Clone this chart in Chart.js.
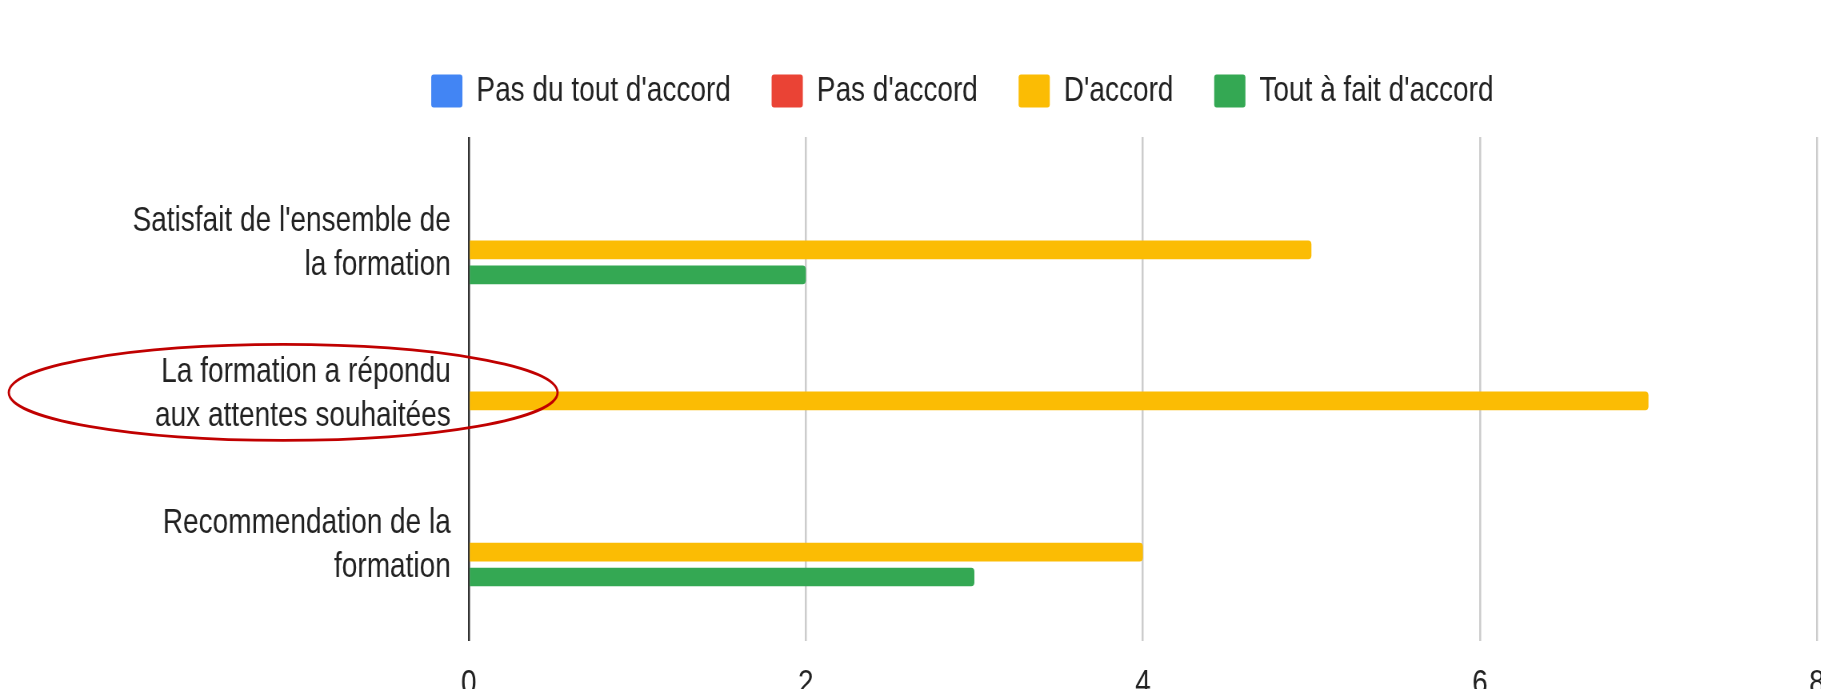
<!DOCTYPE html>
<html>
<head>
<meta charset="utf-8">
<script src="https://cdn.jsdelivr.net/npm/chart.js@4"></script>
<style>
    html, body { margin: 0; padding: 0; overflow: hidden; background: #fff; width: 1821px; height: 689px; }
    /* the source picture is squeezed sideways: draw wide, then squeeze the canvas the same way */
    canvas { display: block; transform: scaleX(0.8); transform-origin: 0 0; }
</style>
</head>
<body>
<canvas id="chart" width="2303" height="703"></canvas>
<script>

const FONT = "'Liberation Sans', Arial, sans-serif";

// questions (one per row, split in two lines like the original)
const questions = [
    ["Satisfait de l'ensemble de", "la formation"],
    ["La formation a répondu", "aux attentes souhaitées"],
    ["Recommendation de la", "formation"]
];

const seriesNames = ["Pas du tout d'accord", "Pas d'accord", "D'accord", "Tout à fait d'accord"];
const seriesColors = ['#4285f4', '#ea4335', '#fbbc04', '#34a853'];

const pasDuTout = [0, 0, 0];
const pasDaccord = [0, 0, 0];
const daccord = [5, 7, 4];
const toutAFait = [2, 0, 3];

const xTicks = [0, 2, 4, 6, 8];


function toPoints(values) {
    return values.map((v, i) => ({ x: v, y: i }));
}

const allSeries = [pasDuTout, pasDaccord, daccord, toutAFait];

const datasets = allSeries.map((values, i) => {
    return {
        label: seriesNames[i],
        data: toPoints(values),
        backgroundColor: seriesColors[i],
        borderRadius: 4,
        categoryPercentage: 0.662,
        barPercentage: 0.75
    };
});

// legend is not centred on the canvas in the original, push it right a bit
const legendShift = {
    id: 'legendShift',
    afterLayout(chart) {
        chart.legend.left += 64;
        chart.legend.right += 64;
    }
};

// the red hand-drawn circle around the 2nd question
const circleNote = {
    id: 'circleNote',
    afterDraw(chart) {
        const ctx = chart.ctx;
        const y = chart.scales.y;
        const cy = y.getPixelForValue(1) + 4;
        ctx.save();
        ctx.strokeStyle = '#c00000';
        ctx.lineWidth = 2.8;
        ctx.beginPath();
        ctx.ellipse(354, cy, 343, 48, 0, 0, Math.PI * 2);
        ctx.stroke();
        ctx.restore();
    }
};

const myChart = new Chart(document.getElementById('chart'), {
    type: 'bar',
    data: { datasets: datasets },
    plugins: [legendShift, circleNote],
    options: {
        indexAxis: 'y',
        responsive: false,
        animation: false,
        layout: {
            padding: { left: 0, right: 25, top: 22.5, bottom: 0 }
        },
        plugins: {
            tooltip: { enabled: false },
            legend: {
                position: 'top',
                labels: {
                    boxWidth: 39,
                    boxHeight: 33,
                    useBorderRadius: true,
                    borderRadius: 3,
                    padding: 51,
                    color: '#222',
                    font: { family: FONT, size: 35 }
                }
            }
        },
        scales: {
            x: {
                type: 'linear',
                position: 'bottom',
                min: xTicks[0],
                max: xTicks[xTicks.length - 1],
                afterBuildTicks: (s) => { s.ticks = xTicks.map(v => ({ value: v })); },
                afterFit: (s) => { s.height = 62; },
                grid: {
                    drawTicks: false,
                    lineWidth: 2.5,
                    color: (c) => c.tick && c.tick.value === 0 ? '#333333' : '#cccccc'
                },
                border: { display: false },
                ticks: {
                    padding: 22,
                    color: '#222',
                    font: { family: FONT, size: 35 }
                }
            },
            spacer: {
                axis: 'x',
                type: 'linear',
                position: 'top',
                grid: { display: false },
                border: { display: false },
                ticks: { display: false },
                afterFit: (s) => { s.height = 18.5; }
            },
            y: {
                type: 'linear',
                reverse: true,
                offset: false,
                min: -0.665,
                max: 2.672,
                afterBuildTicks: (s) => { s.ticks = questions.map((q, i) => ({ value: i })); },
                afterFit: (s) => { s.width = 586; },
                grid: { display: false },
                border: { display: false },
                ticks: {
                    padding: 14.5,
                    labelOffset: 6,
                    color: '#222',
                    font: { family: FONT, size: 35, lineHeight: 1.257 },
                    callback: (v) => questions[v]
                }
            }
        }
    }
});
</script>
</body>
</html>
